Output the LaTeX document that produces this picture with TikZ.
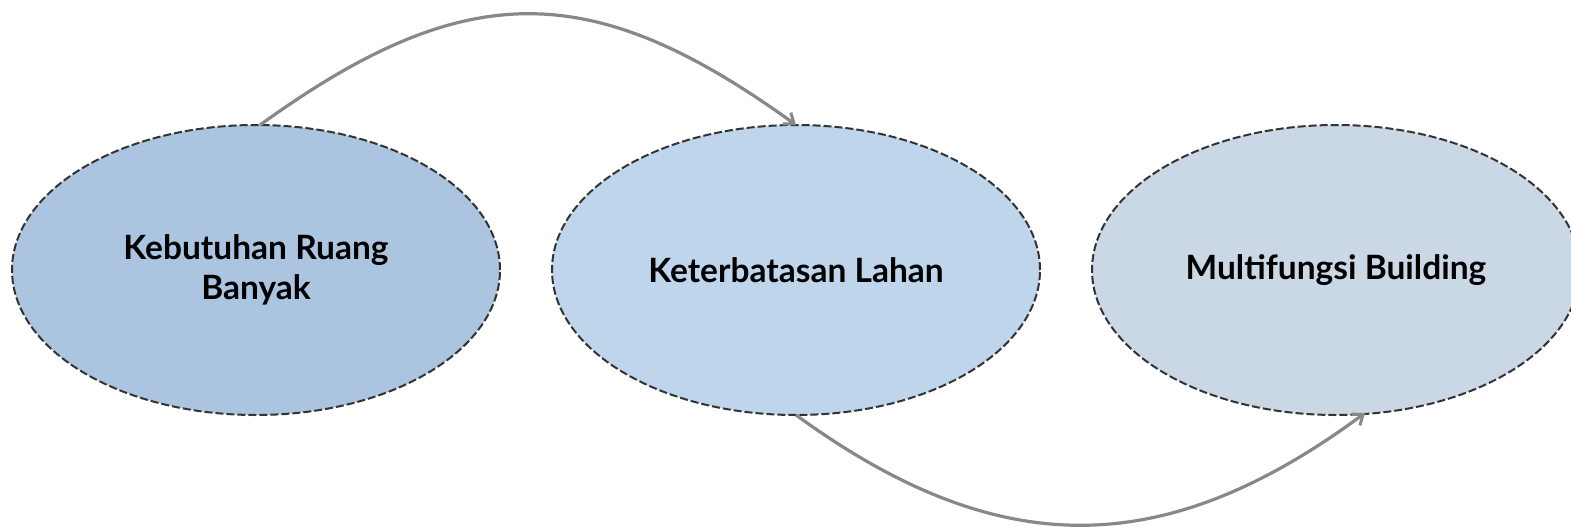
\documentclass[tikz,border=0pt]{standalone}
\usepackage{fontspec}
\setmainfont{Lato}
\usetikzlibrary{shapes.geometric,arrows.meta,calc}
\definecolor{fillA}{HTML}{ABC5E1}
\definecolor{fillB}{HTML}{BED5EC}
\definecolor{fillC}{HTML}{CAD7E5}
\definecolor{edgegray}{HTML}{333333}
\definecolor{arrowgray}{HTML}{888888}
\begin{document}
\begin{tikzpicture}[x=1pt,y=-1pt,
  blob/.style={ellipse, draw=edgegray, line width=2pt, dash pattern=on 8pt off 3pt,
    minimum width=488pt, minimum height=290pt, inner sep=0pt, outer sep=0pt,
    font=\fontsize{33.5}{40}\selectfont\bfseries, align=center, text=black},
  link/.style={draw=arrowgray, line width=3.2pt, -{Straight Barb[length=9pt,width=14pt,line width=3pt]}}]
\clip (0,0) rectangle (1571,527);
\useasboundingbox (0,0) rectangle (1571,527);
\node[blob, fill=fillA] (e1) at (256,270) {Kebutuhan Ruang\\Banyak};
\node[blob, fill=fillB] (e2) at (796,270) {Keterbatasan Lahan};
\node[blob, fill=fillC] (e3) at (1336,270) {Multifungsi Building};
\draw[link] ([xshift=4pt]e1.north) .. controls (465,-23) and (591,-23) .. (e2.north);
\draw[link] (e2.south) .. controls (998,562) and (1163,562) .. ($(e3.south)+(29,-2)$);
\end{tikzpicture}
\end{document}
